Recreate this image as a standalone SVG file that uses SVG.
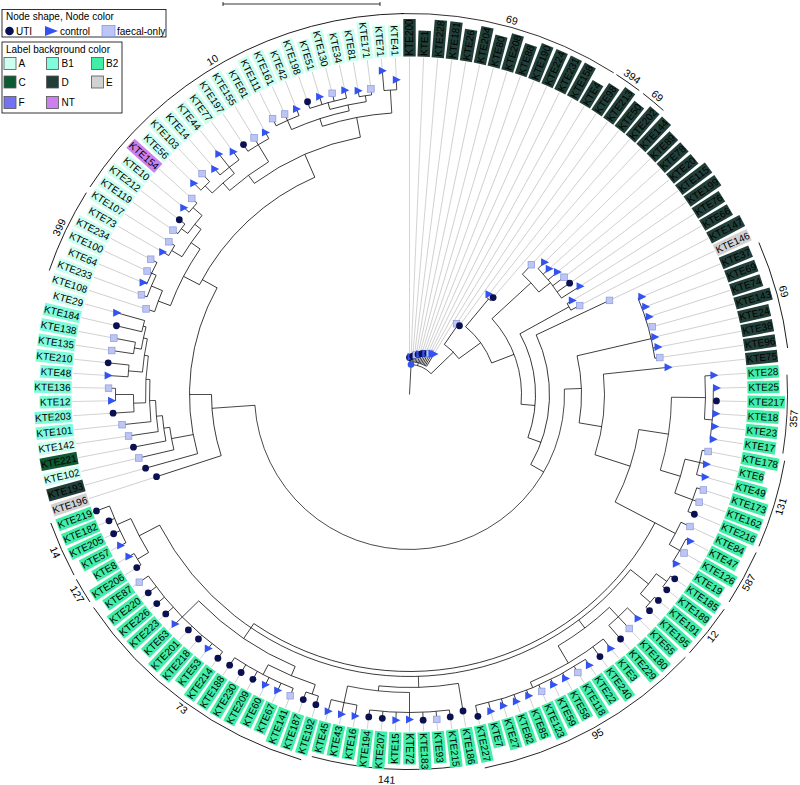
<svg xmlns="http://www.w3.org/2000/svg" xmlns:xlink="http://www.w3.org/1999/xlink" width="800" height="785" viewBox="0 0 800 785">
<style>
text{font-family:"Liberation Sans",Arial,sans-serif;fill:#000}
.lb text{font-size:10px}
.e{text-anchor:end}
.A{fill:#ccfff0}.B1{fill:#80fcdc}.B2{fill:#40eea8}.C{fill:#0e5a32}.D{fill:#213f38}.E{fill:#d2d2d2}.F{fill:#7373f2}.NT{fill:#cc80ee}
#cn line,#cn circle{fill:none;stroke:#000;stroke-width:0.7}
#cn .g{stroke:#a8a8a8;stroke-width:0.5}
#ann circle{fill:none;stroke:#000;stroke-width:0.8}
#ann text{font-size:10.5px;text-anchor:middle}
.lg text{font-size:10px}
.sw{stroke:#555;stroke-width:0.8}
</style>
<defs>
<circle id="c" r="3.4" fill="#0b1150"/>
<path id="t" d="M-3.5,-4L4.5,0L-3.5,4Z" fill="#3352f2"/>
<rect id="s" x="-3.3" y="-3.3" width="6.6" height="6.6" fill="#bcc5f3" stroke="#8a98dc" stroke-width="0.7"/>
<rect id="r1" x="338" y="-6.2" width="26" height="12.4"/>
<rect id="r2" x="338" y="-6.2" width="32" height="12.4"/>
<rect id="r3" x="338" y="-6.2" width="37.5" height="12.4"/>
<rect id="l1" x="-364" y="-6.2" width="26" height="12.4"/>
<rect id="l2" x="-370" y="-6.2" width="32" height="12.4"/>
<rect id="l3" x="-375.5" y="-6.2" width="37.5" height="12.4"/>
</defs>
<rect width="800" height="785" fill="#fff"/>
<g id="scale" stroke="#000" stroke-width="0.8"><line x1="223" y1="4" x2="380" y2="4"/><line x1="223" y1="2" x2="223" y2="6"/><line x1="380" y1="2" x2="380" y2="6"/></g>
<g id="legend-shape" class="lg">
<rect x="2" y="9.5" width="164" height="27.5" fill="#fff" stroke="#000" stroke-width="0.8"/>
<text x="6" y="20">Node shape, Node color</text>
<circle cx="9.5" cy="31" r="4.3" fill="#0b1150"/><text x="16" y="34.5">UTI</text>
<path d="M45,26L58,31L45,36Z" fill="#3352f2"/><text x="60" y="34.5">control</text>
<rect x="102" y="25.5" width="13" height="11" fill="#bcc5f3" stroke="#8a98dc" stroke-width="0.8"/><text x="117" y="34.5">faecal-only</text>
</g>
<g id="legend-label" class="lg">
<rect x="2" y="42" width="120" height="71" fill="#fff" stroke="#000" stroke-width="0.8"/>
<text x="6" y="53">Label background color</text>
<rect class="A sw" x="4" y="57.5" width="12" height="12"/><text x="18.5" y="67">A</text>
<rect class="B1 sw" x="46.5" y="57.5" width="12" height="12"/><text x="61.5" y="67">B1</text>
<rect class="B2 sw" x="91.5" y="57.5" width="12" height="12"/><text x="106" y="67">B2</text>
<rect class="C sw" x="4" y="76" width="12" height="12"/><text x="18.5" y="85.5">C</text>
<rect class="D sw" x="46.5" y="76" width="12" height="12"/><text x="61.5" y="85.5">D</text>
<rect class="E sw" x="91.5" y="76" width="12" height="12"/><text x="106" y="85.5">E</text>
<rect class="F sw" x="4" y="96.5" width="12" height="12"/><text x="18.5" y="106">F</text>
<rect class="NT sw" x="46.5" y="96.5" width="12" height="12"/><text x="61.5" y="106">NT</text>
</g>
<g transform="translate(409.5,394.5)">
<g id="cn">
<circle r="30" transform="rotate(-87)" stroke-dasharray="22.51 3000"/>
<circle r="33" transform="rotate(-90)" stroke-dasharray="17.97 3000"/>
<circle r="61" transform="rotate(-55.2)" stroke-dasharray="20.44 3000"/>
<circle r="82" transform="rotate(-56.4)" stroke-dasharray="3.43 3000"/>
<circle r="88" transform="rotate(-50.4)" stroke-dasharray="45.16 3000"/>
<circle r="124" transform="rotate(-51.6)" stroke-dasharray="5.19 3000"/>
<circle r="112" transform="rotate(-42.6)" stroke-dasharray="93.05 3000"/>
<circle r="165" transform="rotate(-46.8)" stroke-dasharray="24.19 3000"/>
<circle r="180" transform="rotate(-44.4)" stroke-dasharray="37.70 3000"/>
<circle r="126" transform="rotate(-28.8)" stroke-dasharray="107.32 3000"/>
<circle r="182" transform="rotate(-30)" stroke-dasharray="7.62 3000"/>
<circle r="140" transform="rotate(-25.2)" stroke-dasharray="134.88 3000"/>
<circle r="155" transform="rotate(-2)" stroke-dasharray="481.54 3000"/>
<circle r="172" transform="rotate(-13)" stroke-dasharray="67.54 3000"/>
<circle r="248" transform="rotate(-22.8)" stroke-dasharray="62.33 3000"/>
<circle r="195" transform="rotate(-6)" stroke-dasharray="81.68 3000"/>
<circle r="232" transform="rotate(8.7)" stroke-dasharray="76.53 3000"/>
<circle r="262" transform="rotate(0.6)" stroke-dasharray="74.08 3000"/>
<circle r="296" transform="rotate(-3.6)" stroke-dasharray="43.40 3000"/>
<circle r="304" transform="rotate(-1.2)" stroke-dasharray="50.94 3000"/>
<circle r="283" transform="rotate(13.2)" stroke-dasharray="35.56 3000"/>
<circle r="298" transform="rotate(10.8)" stroke-dasharray="24.96 3000"/>
<circle r="302" transform="rotate(18)" stroke-dasharray="25.30 3000"/>
<circle r="277" transform="rotate(27.6)" stroke-dasharray="467.02 3000"/>
<circle r="282" transform="rotate(38.4)" stroke-dasharray="561.09 3000"/>
<circle r="300" transform="rotate(25.2)" stroke-dasharray="25.13 3000"/>
<circle r="312" transform="rotate(27.6)" stroke-dasharray="26.14 3000"/>
<circle r="305" transform="rotate(36)" stroke-dasharray="25.55 3000"/>
<circle r="318" transform="rotate(34.8)" stroke-dasharray="13.32 3000"/>
<circle r="318" transform="rotate(39.6)" stroke-dasharray="13.32 3000"/>
<circle r="292" transform="rotate(46.8)" stroke-dasharray="64.21 3000"/>
<circle r="305" transform="rotate(44.4)" stroke-dasharray="25.55 3000"/>
<circle r="312" transform="rotate(51.6)" stroke-dasharray="84.95 3000"/>
<circle r="318" transform="rotate(56.4)" stroke-dasharray="119.88 3000"/>
<circle r="293" transform="rotate(80.4)" stroke-dasharray="79.77 3000"/>
<circle r="298" transform="rotate(90)" stroke-dasharray="62.41 3000"/>
<circle r="318" transform="rotate(82.8)" stroke-dasharray="79.92 3000"/>
<circle r="315" transform="rotate(99.6)" stroke-dasharray="26.39 3000"/>
<circle r="295" transform="rotate(112.8)" stroke-dasharray="117.39 3000"/>
<circle r="305" transform="rotate(108)" stroke-dasharray="51.10 3000"/>
<circle r="315" transform="rotate(106.8)" stroke-dasharray="13.19 3000"/>
<circle r="316" transform="rotate(111.6)" stroke-dasharray="66.18 3000"/>
<circle r="318" transform="rotate(126)" stroke-dasharray="106.56 3000"/>
<circle r="305" transform="rotate(148.8)" stroke-dasharray="38.33 3000"/>
<circle r="318" transform="rotate(147.6)" stroke-dasharray="13.32 3000"/>
<circle r="320" transform="rotate(152.4)" stroke-dasharray="40.21 3000"/>
<circle r="198" transform="rotate(162)" stroke-dasharray="62.20 3000"/>
<circle r="220" transform="rotate(164.4)" stroke-dasharray="171.25 3000"/>
<circle r="242" transform="rotate(166.8)" stroke-dasharray="22.81 3000"/>
<circle r="248" transform="rotate(169.2)" stroke-dasharray="25.54 3000"/>
<circle r="254" transform="rotate(171.6)" stroke-dasharray="31.25 3000"/>
<circle r="260" transform="rotate(174)" stroke-dasharray="42.20 3000"/>
<circle r="264" transform="rotate(178.2)" stroke-dasharray="47.00 3000"/>
<circle r="276" transform="rotate(176.4)" stroke-dasharray="17.34 3000"/>
<circle r="294" transform="rotate(178.8)" stroke-dasharray="12.31 3000"/>
<circle r="268" transform="rotate(184.8)" stroke-dasharray="33.68 3000"/>
<circle r="282" transform="rotate(183.6)" stroke-dasharray="11.81 3000"/>
<circle r="272" transform="rotate(189.6)" stroke-dasharray="22.79 3000"/>
<circle r="279" transform="rotate(188.4)" stroke-dasharray="11.69 3000"/>
<circle r="275" transform="rotate(193.2)" stroke-dasharray="11.52 3000"/>
<circle r="237" transform="rotate(207.6)" stroke-dasharray="160.70 3000"/>
<circle r="255" transform="rotate(200.4)" stroke-dasharray="64.09 3000"/>
<circle r="268" transform="rotate(198)" stroke-dasharray="22.45 3000"/>
<circle r="280" transform="rotate(200.4)" stroke-dasharray="23.46 3000"/>
<circle r="285" transform="rotate(202.8)" stroke-dasharray="23.88 3000"/>
<circle r="266" transform="rotate(211.2)" stroke-dasharray="33.43 3000"/>
<circle r="278" transform="rotate(210)" stroke-dasharray="11.64 3000"/>
<circle r="274" transform="rotate(216)" stroke-dasharray="22.95 3000"/>
<circle r="282" transform="rotate(214.8)" stroke-dasharray="11.81 3000"/>
<circle r="286" transform="rotate(219.6)" stroke-dasharray="11.98 3000"/>
<circle r="262" transform="rotate(233.7)" stroke-dasharray="116.61 3000"/>
<circle r="272" transform="rotate(228.6)" stroke-dasharray="48.42 3000"/>
<circle r="282" transform="rotate(225.6)" stroke-dasharray="29.53 3000"/>
<circle r="292" transform="rotate(224.4)" stroke-dasharray="12.23 3000"/>
<circle r="290" transform="rotate(229.2)" stroke-dasharray="24.30 3000"/>
<circle r="292" transform="rotate(236.4)" stroke-dasharray="24.46 3000"/>
<circle r="282" transform="rotate(252)" stroke-dasharray="70.87 3000"/>
<circle r="290" transform="rotate(246)" stroke-dasharray="60.74 3000"/>
<circle r="300" transform="rotate(243.6)" stroke-dasharray="25.13 3000"/>
<circle r="296" transform="rotate(254.4)" stroke-dasharray="37.20 3000"/>
<circle r="303" transform="rotate(250.8)" stroke-dasharray="38.08 3000"/>
<circle r="302" transform="rotate(260.4)" stroke-dasharray="12.65 3000"/>
<circle r="305" transform="rotate(265.2)" stroke-dasharray="12.78 3000"/>
<line transform="rotate(3)" y1="0" y2="-30"/>
<line transform="rotate(15.6)" y1="-30" y2="-33"/>
<line transform="rotate(46)" y1="-30" y2="-61"/>
<line transform="rotate(34.8)" y1="-61" y2="-82"/>
<line transform="rotate(54)" y1="-61" y2="-88"/>
<line transform="rotate(39.6)" y1="-88" y2="-124"/>
<line transform="rotate(69)" y1="-88" y2="-112"/>
<line transform="rotate(47.4)" y1="-112" y2="-165"/>
<line transform="rotate(51.6)" y1="-165" y2="-180"/>
<line transform="rotate(95)" y1="-112" y2="-126"/>
<line transform="rotate(61.2)" y1="-126" y2="-182"/>
<line transform="rotate(110)" y1="-126" y2="-140"/>
<line transform="rotate(120)" y1="-140" y2="-155"/>
<line transform="rotate(88)" y1="-155" y2="-172"/>
<line transform="rotate(77)" y1="-172" y2="-248"/>
<line transform="rotate(99.5)" y1="-172" y2="-195"/>
<line transform="rotate(108)" y1="-195" y2="-232"/>
<line transform="rotate(98.7)" y1="-232" y2="-262"/>
<line transform="rotate(90.6)" y1="-262" y2="-296"/>
<line transform="rotate(94.8)" y1="-296" y2="-304"/>
<line transform="rotate(106.8)" y1="-262" y2="-283"/>
<line transform="rotate(103.2)" y1="-283" y2="-298"/>
<line transform="rotate(110.4)" y1="-283" y2="-302"/>
<line transform="rotate(117.6)" y1="-232" y2="-300"/>
<line transform="rotate(120)" y1="-300" y2="-312"/>
<line transform="rotate(214.2)" y1="-277" y2="-295"/>
<line transform="rotate(128.4)" y1="-282" y2="-305"/>
<line transform="rotate(126)" y1="-305" y2="-318"/>
<line transform="rotate(130.8)" y1="-305" y2="-318"/>
<line transform="rotate(143.1)" y1="-282" y2="-292"/>
<line transform="rotate(136.8)" y1="-292" y2="-305"/>
<line transform="rotate(149.4)" y1="-292" y2="-312"/>
<line transform="rotate(157.2)" y1="-312" y2="-318"/>
<line transform="rotate(178.2)" y1="-282" y2="-293"/>
<line transform="rotate(186)" y1="-293" y2="-298"/>
<line transform="rotate(180)" y1="-298" y2="-318"/>
<line transform="rotate(192)" y1="-298" y2="-315"/>
<line transform="rotate(202.8)" y1="-295" y2="-305"/>
<line transform="rotate(198)" y1="-305" y2="-315"/>
<line transform="rotate(207.6)" y1="-305" y2="-316"/>
<line transform="rotate(225.6)" y1="-295" y2="-318"/>
<line transform="rotate(242.4)" y1="-282" y2="-305"/>
<line transform="rotate(238.8)" y1="-305" y2="-318"/>
<line transform="rotate(246)" y1="-305" y2="-320"/>
<line transform="rotate(266)" y1="-155" y2="-198"/>
<line transform="rotate(270)" y1="-198" y2="-220"/>
<line transform="rotate(259.5)" y1="-220" y2="-242"/>
<line transform="rotate(262.2)" y1="-242" y2="-248"/>
<line transform="rotate(265.1)" y1="-248" y2="-254"/>
<line transform="rotate(268.65)" y1="-254" y2="-260"/>
<line transform="rotate(273.3)" y1="-260" y2="-264"/>
<line transform="rotate(268.2)" y1="-264" y2="-276"/>
<line transform="rotate(270)" y1="-276" y2="-294"/>
<line transform="rotate(278.4)" y1="-264" y2="-268"/>
<line transform="rotate(274.8)" y1="-268" y2="-282"/>
<line transform="rotate(282)" y1="-268" y2="-272"/>
<line transform="rotate(279.6)" y1="-272" y2="-279"/>
<line transform="rotate(284.4)" y1="-272" y2="-275"/>
<line transform="rotate(299)" y1="-220" y2="-237"/>
<line transform="rotate(297.6)" y1="-237" y2="-255"/>
<line transform="rotate(290.4)" y1="-255" y2="-268"/>
<line transform="rotate(292.8)" y1="-268" y2="-280"/>
<line transform="rotate(295.2)" y1="-280" y2="-285"/>
<line transform="rotate(304.8)" y1="-255" y2="-266"/>
<line transform="rotate(301.2)" y1="-266" y2="-278"/>
<line transform="rotate(308.4)" y1="-266" y2="-274"/>
<line transform="rotate(306)" y1="-274" y2="-282"/>
<line transform="rotate(310.8)" y1="-274" y2="-286"/>
<line transform="rotate(336.45)" y1="-237" y2="-262"/>
<line transform="rotate(323.7)" y1="-262" y2="-272"/>
<line transform="rotate(318.6)" y1="-272" y2="-282"/>
<line transform="rotate(315.6)" y1="-282" y2="-292"/>
<line transform="rotate(321.6)" y1="-282" y2="-290"/>
<line transform="rotate(328.8)" y1="-272" y2="-292"/>
<line transform="rotate(349.2)" y1="-262" y2="-282"/>
<line transform="rotate(342)" y1="-282" y2="-290"/>
<line transform="rotate(336)" y1="-290" y2="-300"/>
<line transform="rotate(348)" y1="-290" y2="-296"/>
<line transform="rotate(344.4)" y1="-296" y2="-303"/>
<line transform="rotate(351.6)" y1="-296" y2="-302"/>
<line transform="rotate(356.4)" y1="-282" y2="-305"/>
<line transform="rotate(0)" y1="-33" y2="-37"/>
<line transform="rotate(2.4)" y1="-33" y2="-37.8"/>
<line transform="rotate(4.8)" y1="-33" y2="-38.6"/>
<line transform="rotate(7.2)" y1="-33" y2="-39.4"/>
<line transform="rotate(9.6)" y1="-33" y2="-40.2"/>
<line transform="rotate(12)" y1="-33" y2="-41"/>
<line transform="rotate(14.4)" y1="-33" y2="-41.8"/>
<line transform="rotate(16.8)" y1="-33" y2="-42.6"/>
<line transform="rotate(19.2)" y1="-33" y2="-43.4"/>
<line transform="rotate(21.6)" y1="-33" y2="-44.2"/>
<line transform="rotate(24)" y1="-33" y2="-45"/>
<line transform="rotate(26.4)" y1="-33" y2="-45.8"/>
<line transform="rotate(28.8)" y1="-33" y2="-46.6"/>
<line transform="rotate(31.2)" y1="-33" y2="-47.4"/>
<line transform="rotate(33.6)" y1="-82" y2="-85"/>
<line transform="rotate(36)" y1="-82" y2="-85"/>
<line transform="rotate(38.4)" y1="-124" y2="-128"/>
<line transform="rotate(40.8)" y1="-124" y2="-128"/>
<line transform="rotate(43.2)" y1="-165" y2="-178"/>
<line transform="rotate(45.6)" y1="-180" y2="-189"/>
<line transform="rotate(48)" y1="-180" y2="-188"/>
<line transform="rotate(50.4)" y1="-180" y2="-192"/>
<line transform="rotate(52.8)" y1="-180" y2="-194"/>
<line transform="rotate(55.2)" y1="-180" y2="-195"/>
<line transform="rotate(57.6)" y1="-180" y2="-202"/>
<line transform="rotate(60)" y1="-182" y2="-188"/>
<line transform="rotate(62.4)" y1="-182" y2="-192"/>
<line transform="rotate(64.8)" y1="-140" y2="-221"/>
<line transform="rotate(67.2)" y1="-248" y2="-252"/>
<line transform="rotate(69.6)" y1="-248" y2="-252"/>
<line transform="rotate(72)" y1="-248" y2="-252"/>
<line transform="rotate(74.4)" y1="-248" y2="-252"/>
<line transform="rotate(76.8)" y1="-248" y2="-252"/>
<line transform="rotate(79.2)" y1="-248" y2="-253"/>
<line transform="rotate(81.6)" y1="-248" y2="-253"/>
<line transform="rotate(84)" y1="-195" y2="-260"/>
<line transform="rotate(86.4)" y1="-296" y2="-305"/>
<line transform="rotate(88.8)" y1="-304" y2="-307"/>
<line transform="rotate(91.2)" y1="-304" y2="-307"/>
<line transform="rotate(93.6)" y1="-304" y2="-307"/>
<line transform="rotate(96)" y1="-304" y2="-307"/>
<line transform="rotate(98.4)" y1="-304" y2="-307"/>
<line transform="rotate(100.8)" y1="-298" y2="-304"/>
<line transform="rotate(103.2)" y1="-298" y2="-305"/>
<line transform="rotate(105.6)" y1="-298" y2="-307"/>
<line transform="rotate(108)" y1="-302" y2="-309"/>
<line transform="rotate(110.4)" y1="-302" y2="-309"/>
<line transform="rotate(112.8)" y1="-302" y2="-309"/>
<line transform="rotate(115.2)" y1="-300" y2="-310"/>
<line transform="rotate(117.6)" y1="-312" y2="-317"/>
<line transform="rotate(120)" y1="-312" y2="-317"/>
<line transform="rotate(122.4)" y1="-312" y2="-316"/>
<line transform="rotate(124.8)" y1="-318" y2="-323"/>
<line transform="rotate(127.2)" y1="-318" y2="-323"/>
<line transform="rotate(129.6)" y1="-318" y2="-323"/>
<line transform="rotate(132)" y1="-318" y2="-323"/>
<line transform="rotate(134.4)" y1="-305" y2="-320"/>
<line transform="rotate(136.8)" y1="-305" y2="-321"/>
<line transform="rotate(139.2)" y1="-305" y2="-323"/>
<line transform="rotate(141.6)" y1="-312" y2="-324"/>
<line transform="rotate(144)" y1="-312" y2="-324"/>
<line transform="rotate(146.4)" y1="-318" y2="-325"/>
<line transform="rotate(148.8)" y1="-318" y2="-325"/>
<line transform="rotate(151.2)" y1="-318" y2="-324"/>
<line transform="rotate(153.6)" y1="-318" y2="-324"/>
<line transform="rotate(156)" y1="-318" y2="-325"/>
<line transform="rotate(158.4)" y1="-318" y2="-324"/>
<line transform="rotate(160.8)" y1="-318" y2="-325"/>
<line transform="rotate(163.2)" y1="-318" y2="-325"/>
<line transform="rotate(165.6)" y1="-318" y2="-327"/>
<line transform="rotate(168)" y1="-318" y2="-329"/>
<line transform="rotate(170.4)" y1="-293" y2="-321"/>
<line transform="rotate(172.8)" y1="-318" y2="-325"/>
<line transform="rotate(175.2)" y1="-318" y2="-326"/>
<line transform="rotate(177.6)" y1="-318" y2="-326"/>
<line transform="rotate(180)" y1="-318" y2="-325"/>
<line transform="rotate(182.4)" y1="-318" y2="-326"/>
<line transform="rotate(184.8)" y1="-318" y2="-325"/>
<line transform="rotate(187.2)" y1="-318" y2="-325"/>
<line transform="rotate(189.6)" y1="-315" y2="-326"/>
<line transform="rotate(192)" y1="-315" y2="-327"/>
<line transform="rotate(194.4)" y1="-315" y2="-327"/>
<line transform="rotate(196.8)" y1="-315" y2="-324"/>
<line transform="rotate(199.2)" y1="-315" y2="-323"/>
<line transform="rotate(201.6)" y1="-316" y2="-324"/>
<line transform="rotate(204)" y1="-316" y2="-324"/>
<line transform="rotate(206.4)" y1="-316" y2="-324"/>
<line transform="rotate(208.8)" y1="-316" y2="-325"/>
<line transform="rotate(211.2)" y1="-316" y2="-325"/>
<line transform="rotate(213.6)" y1="-316" y2="-325"/>
<line transform="rotate(216)" y1="-318" y2="-326"/>
<line transform="rotate(218.4)" y1="-318" y2="-324"/>
<line transform="rotate(220.8)" y1="-318" y2="-323"/>
<line transform="rotate(223.2)" y1="-318" y2="-323"/>
<line transform="rotate(225.6)" y1="-318" y2="-328"/>
<line transform="rotate(228)" y1="-318" y2="-328"/>
<line transform="rotate(230.4)" y1="-318" y2="-328"/>
<line transform="rotate(232.8)" y1="-318" y2="-328"/>
<line transform="rotate(235.2)" y1="-318" y2="-329"/>
<line transform="rotate(237.6)" y1="-318" y2="-323"/>
<line transform="rotate(240)" y1="-318" y2="-324"/>
<line transform="rotate(242.4)" y1="-320" y2="-326"/>
<line transform="rotate(244.8)" y1="-320" y2="-327"/>
<line transform="rotate(247.2)" y1="-320" y2="-326"/>
<line transform="rotate(249.6)" y1="-320" y2="-334"/>
<line transform="rotate(252)" y1="-198" y2="-266"/>
<line transform="rotate(254.4)" y1="-220" y2="-274"/>
<line transform="rotate(256.8)" y1="-242" y2="-278"/>
<line transform="rotate(259.2)" y1="-248" y2="-281"/>
<line transform="rotate(261.6)" y1="-254" y2="-284"/>
<line transform="rotate(264)" y1="-260" y2="-289"/>
<line transform="rotate(266.4)" y1="-276" y2="-297"/>
<line transform="rotate(268.8)" y1="-294" y2="-298"/>
<line transform="rotate(271.2)" y1="-294" y2="-301"/>
<line transform="rotate(273.6)" y1="-282" y2="-302"/>
<line transform="rotate(276)" y1="-282" y2="-303"/>
<line transform="rotate(278.4)" y1="-279" y2="-301"/>
<line transform="rotate(280.8)" y1="-279" y2="-301"/>
<line transform="rotate(283.2)" y1="-275" y2="-301"/>
<line transform="rotate(285.6)" y1="-275" y2="-304"/>
<line transform="rotate(288)" y1="-268" y2="-277"/>
<line transform="rotate(290.4)" y1="-280" y2="-286"/>
<line transform="rotate(292.8)" y1="-285" y2="-289"/>
<line transform="rotate(295.2)" y1="-285" y2="-290"/>
<line transform="rotate(297.6)" y1="-285" y2="-292"/>
<line transform="rotate(300)" y1="-278" y2="-285"/>
<line transform="rotate(302.4)" y1="-278" y2="-285"/>
<line transform="rotate(304.8)" y1="-282" y2="-288"/>
<line transform="rotate(307.2)" y1="-282" y2="-289"/>
<line transform="rotate(309.6)" y1="-286" y2="-293"/>
<line transform="rotate(312)" y1="-286" y2="-293"/>
<line transform="rotate(314.4)" y1="-292" y2="-302"/>
<line transform="rotate(316.8)" y1="-292" y2="-303"/>
<line transform="rotate(319.2)" y1="-290" y2="-298"/>
<line transform="rotate(321.6)" y1="-290" y2="-307"/>
<line transform="rotate(324)" y1="-290" y2="-300"/>
<line transform="rotate(326.4)" y1="-292" y2="-300"/>
<line transform="rotate(328.8)" y1="-292" y2="-300"/>
<line transform="rotate(331.2)" y1="-292" y2="-299"/>
<line transform="rotate(333.6)" y1="-300" y2="-308"/>
<line transform="rotate(336)" y1="-300" y2="-307"/>
<line transform="rotate(338.4)" y1="-300" y2="-307"/>
<line transform="rotate(340.8)" y1="-303" y2="-310"/>
<line transform="rotate(343.2)" y1="-303" y2="-311"/>
<line transform="rotate(345.6)" y1="-303" y2="-311"/>
<line transform="rotate(348)" y1="-303" y2="-311"/>
<line transform="rotate(350.4)" y1="-302" y2="-308"/>
<line transform="rotate(352.8)" y1="-302" y2="-308"/>
<line transform="rotate(355.2)" y1="-305" y2="-325"/>
<line transform="rotate(357.6)" y1="-305" y2="-315"/>
<g class="g">
<line class="g" transform="rotate(0)" y1="-37" y2="-337"/>
<line class="g" transform="rotate(2.4)" y1="-37.8" y2="-337"/>
<line class="g" transform="rotate(4.8)" y1="-38.6" y2="-337"/>
<line class="g" transform="rotate(7.2)" y1="-39.4" y2="-337"/>
<line class="g" transform="rotate(9.6)" y1="-40.2" y2="-337"/>
<line class="g" transform="rotate(12)" y1="-41" y2="-337"/>
<line class="g" transform="rotate(14.4)" y1="-41.8" y2="-337"/>
<line class="g" transform="rotate(16.8)" y1="-42.6" y2="-337"/>
<line class="g" transform="rotate(19.2)" y1="-43.4" y2="-337"/>
<line class="g" transform="rotate(21.6)" y1="-44.2" y2="-337"/>
<line class="g" transform="rotate(24)" y1="-45" y2="-337"/>
<line class="g" transform="rotate(26.4)" y1="-45.8" y2="-337"/>
<line class="g" transform="rotate(28.8)" y1="-46.6" y2="-337"/>
<line class="g" transform="rotate(31.2)" y1="-47.4" y2="-337"/>
<line class="g" transform="rotate(33.6)" y1="-85" y2="-337"/>
<line class="g" transform="rotate(36)" y1="-85" y2="-337"/>
<line class="g" transform="rotate(38.4)" y1="-128" y2="-337"/>
<line class="g" transform="rotate(40.8)" y1="-128" y2="-337"/>
<line class="g" transform="rotate(43.2)" y1="-178" y2="-337"/>
<line class="g" transform="rotate(45.6)" y1="-189" y2="-337"/>
<line class="g" transform="rotate(48)" y1="-188" y2="-337"/>
<line class="g" transform="rotate(50.4)" y1="-192" y2="-337"/>
<line class="g" transform="rotate(52.8)" y1="-194" y2="-337"/>
<line class="g" transform="rotate(55.2)" y1="-195" y2="-337"/>
<line class="g" transform="rotate(57.6)" y1="-202" y2="-337"/>
<line class="g" transform="rotate(60)" y1="-188" y2="-337"/>
<line class="g" transform="rotate(62.4)" y1="-192" y2="-337"/>
<line class="g" transform="rotate(64.8)" y1="-221" y2="-337"/>
<line class="g" transform="rotate(67.2)" y1="-252" y2="-337"/>
<line class="g" transform="rotate(69.6)" y1="-252" y2="-337"/>
<line class="g" transform="rotate(72)" y1="-252" y2="-337"/>
<line class="g" transform="rotate(74.4)" y1="-252" y2="-337"/>
<line class="g" transform="rotate(76.8)" y1="-252" y2="-337"/>
<line class="g" transform="rotate(79.2)" y1="-253" y2="-337"/>
<line class="g" transform="rotate(81.6)" y1="-253" y2="-337"/>
<line class="g" transform="rotate(84)" y1="-260" y2="-337"/>
<line class="g" transform="rotate(86.4)" y1="-305" y2="-337"/>
<line class="g" transform="rotate(88.8)" y1="-307" y2="-337"/>
<line class="g" transform="rotate(91.2)" y1="-307" y2="-337"/>
<line class="g" transform="rotate(93.6)" y1="-307" y2="-337"/>
<line class="g" transform="rotate(96)" y1="-307" y2="-337"/>
<line class="g" transform="rotate(98.4)" y1="-307" y2="-337"/>
<line class="g" transform="rotate(100.8)" y1="-304" y2="-337"/>
<line class="g" transform="rotate(103.2)" y1="-305" y2="-337"/>
<line class="g" transform="rotate(105.6)" y1="-307" y2="-337"/>
<line class="g" transform="rotate(108)" y1="-309" y2="-337"/>
<line class="g" transform="rotate(110.4)" y1="-309" y2="-337"/>
<line class="g" transform="rotate(112.8)" y1="-309" y2="-337"/>
<line class="g" transform="rotate(115.2)" y1="-310" y2="-337"/>
<line class="g" transform="rotate(117.6)" y1="-317" y2="-337"/>
<line class="g" transform="rotate(120)" y1="-317" y2="-337"/>
<line class="g" transform="rotate(122.4)" y1="-316" y2="-337"/>
<line class="g" transform="rotate(124.8)" y1="-323" y2="-337"/>
<line class="g" transform="rotate(127.2)" y1="-323" y2="-337"/>
<line class="g" transform="rotate(129.6)" y1="-323" y2="-337"/>
<line class="g" transform="rotate(132)" y1="-323" y2="-337"/>
<line class="g" transform="rotate(134.4)" y1="-320" y2="-337"/>
<line class="g" transform="rotate(136.8)" y1="-321" y2="-337"/>
<line class="g" transform="rotate(139.2)" y1="-323" y2="-337"/>
<line class="g" transform="rotate(141.6)" y1="-324" y2="-337"/>
<line class="g" transform="rotate(144)" y1="-324" y2="-337"/>
<line class="g" transform="rotate(146.4)" y1="-325" y2="-337"/>
<line class="g" transform="rotate(148.8)" y1="-325" y2="-337"/>
<line class="g" transform="rotate(151.2)" y1="-324" y2="-337"/>
<line class="g" transform="rotate(153.6)" y1="-324" y2="-337"/>
<line class="g" transform="rotate(156)" y1="-325" y2="-337"/>
<line class="g" transform="rotate(158.4)" y1="-324" y2="-337"/>
<line class="g" transform="rotate(160.8)" y1="-325" y2="-337"/>
<line class="g" transform="rotate(163.2)" y1="-325" y2="-337"/>
<line class="g" transform="rotate(165.6)" y1="-327" y2="-337"/>
<line class="g" transform="rotate(168)" y1="-329" y2="-337"/>
<line class="g" transform="rotate(170.4)" y1="-321" y2="-337"/>
<line class="g" transform="rotate(172.8)" y1="-325" y2="-337"/>
<line class="g" transform="rotate(175.2)" y1="-326" y2="-337"/>
<line class="g" transform="rotate(177.6)" y1="-326" y2="-337"/>
<line class="g" transform="rotate(180)" y1="-325" y2="-337"/>
<line class="g" transform="rotate(182.4)" y1="-326" y2="-337"/>
<line class="g" transform="rotate(184.8)" y1="-325" y2="-337"/>
<line class="g" transform="rotate(187.2)" y1="-325" y2="-337"/>
<line class="g" transform="rotate(189.6)" y1="-326" y2="-337"/>
<line class="g" transform="rotate(192)" y1="-327" y2="-337"/>
<line class="g" transform="rotate(194.4)" y1="-327" y2="-337"/>
<line class="g" transform="rotate(196.8)" y1="-324" y2="-337"/>
<line class="g" transform="rotate(199.2)" y1="-323" y2="-337"/>
<line class="g" transform="rotate(201.6)" y1="-324" y2="-337"/>
<line class="g" transform="rotate(204)" y1="-324" y2="-337"/>
<line class="g" transform="rotate(206.4)" y1="-324" y2="-337"/>
<line class="g" transform="rotate(208.8)" y1="-325" y2="-337"/>
<line class="g" transform="rotate(211.2)" y1="-325" y2="-337"/>
<line class="g" transform="rotate(213.6)" y1="-325" y2="-337"/>
<line class="g" transform="rotate(216)" y1="-326" y2="-337"/>
<line class="g" transform="rotate(218.4)" y1="-324" y2="-337"/>
<line class="g" transform="rotate(220.8)" y1="-323" y2="-337"/>
<line class="g" transform="rotate(223.2)" y1="-323" y2="-337"/>
<line class="g" transform="rotate(225.6)" y1="-328" y2="-337"/>
<line class="g" transform="rotate(228)" y1="-328" y2="-337"/>
<line class="g" transform="rotate(230.4)" y1="-328" y2="-337"/>
<line class="g" transform="rotate(232.8)" y1="-328" y2="-337"/>
<line class="g" transform="rotate(235.2)" y1="-329" y2="-337"/>
<line class="g" transform="rotate(237.6)" y1="-323" y2="-337"/>
<line class="g" transform="rotate(240)" y1="-324" y2="-337"/>
<line class="g" transform="rotate(242.4)" y1="-326" y2="-337"/>
<line class="g" transform="rotate(244.8)" y1="-327" y2="-337"/>
<line class="g" transform="rotate(247.2)" y1="-326" y2="-337"/>
<line class="g" transform="rotate(249.6)" y1="-334" y2="-337"/>
<line class="g" transform="rotate(252)" y1="-266" y2="-337"/>
<line class="g" transform="rotate(254.4)" y1="-274" y2="-337"/>
<line class="g" transform="rotate(256.8)" y1="-278" y2="-337"/>
<line class="g" transform="rotate(259.2)" y1="-281" y2="-337"/>
<line class="g" transform="rotate(261.6)" y1="-284" y2="-337"/>
<line class="g" transform="rotate(264)" y1="-289" y2="-337"/>
<line class="g" transform="rotate(266.4)" y1="-297" y2="-337"/>
<line class="g" transform="rotate(268.8)" y1="-298" y2="-337"/>
<line class="g" transform="rotate(271.2)" y1="-301" y2="-337"/>
<line class="g" transform="rotate(273.6)" y1="-302" y2="-337"/>
<line class="g" transform="rotate(276)" y1="-303" y2="-337"/>
<line class="g" transform="rotate(278.4)" y1="-301" y2="-337"/>
<line class="g" transform="rotate(280.8)" y1="-301" y2="-337"/>
<line class="g" transform="rotate(283.2)" y1="-301" y2="-337"/>
<line class="g" transform="rotate(285.6)" y1="-304" y2="-337"/>
<line class="g" transform="rotate(288)" y1="-277" y2="-337"/>
<line class="g" transform="rotate(290.4)" y1="-286" y2="-337"/>
<line class="g" transform="rotate(292.8)" y1="-289" y2="-337"/>
<line class="g" transform="rotate(295.2)" y1="-290" y2="-337"/>
<line class="g" transform="rotate(297.6)" y1="-292" y2="-337"/>
<line class="g" transform="rotate(300)" y1="-285" y2="-337"/>
<line class="g" transform="rotate(302.4)" y1="-285" y2="-337"/>
<line class="g" transform="rotate(304.8)" y1="-288" y2="-337"/>
<line class="g" transform="rotate(307.2)" y1="-289" y2="-337"/>
<line class="g" transform="rotate(309.6)" y1="-293" y2="-337"/>
<line class="g" transform="rotate(312)" y1="-293" y2="-337"/>
<line class="g" transform="rotate(314.4)" y1="-302" y2="-337"/>
<line class="g" transform="rotate(316.8)" y1="-303" y2="-337"/>
<line class="g" transform="rotate(319.2)" y1="-298" y2="-337"/>
<line class="g" transform="rotate(321.6)" y1="-307" y2="-337"/>
<line class="g" transform="rotate(324)" y1="-300" y2="-337"/>
<line class="g" transform="rotate(326.4)" y1="-300" y2="-337"/>
<line class="g" transform="rotate(328.8)" y1="-300" y2="-337"/>
<line class="g" transform="rotate(331.2)" y1="-299" y2="-337"/>
<line class="g" transform="rotate(333.6)" y1="-308" y2="-337"/>
<line class="g" transform="rotate(336)" y1="-307" y2="-337"/>
<line class="g" transform="rotate(338.4)" y1="-307" y2="-337"/>
<line class="g" transform="rotate(340.8)" y1="-310" y2="-337"/>
<line class="g" transform="rotate(343.2)" y1="-311" y2="-337"/>
<line class="g" transform="rotate(345.6)" y1="-311" y2="-337"/>
<line class="g" transform="rotate(348)" y1="-311" y2="-337"/>
<line class="g" transform="rotate(350.4)" y1="-308" y2="-337"/>
<line class="g" transform="rotate(352.8)" y1="-308" y2="-337"/>
<line class="g" transform="rotate(355.2)" y1="-325" y2="-337"/>
<line class="g" transform="rotate(357.6)" y1="-315" y2="-337"/>
</g>
</g>
<g id="ann">
<circle r="381" transform="rotate(-91.2)" stroke-dasharray="223.43 3000"/>
<circle r="381" transform="rotate(-57.1)" stroke-dasharray="27.93 3000"/>
<circle r="381" transform="rotate(-52.2)" stroke-dasharray="26.6 3000"/>
<circle r="381" transform="rotate(-23.5)" stroke-dasharray="109.72 3000"/>
<circle r="378" transform="rotate(-3)" stroke-dasharray="79.17 3000"/>
<circle r="381" transform="rotate(10)" stroke-dasharray="89.77 3000"/>
<circle r="381" transform="rotate(24.5)" stroke-dasharray="56.52 3000"/>
<circle r="381" transform="rotate(34.3)" stroke-dasharray="55.86 3000"/>
<circle r="381" transform="rotate(43.6)" stroke-dasharray="232.74 3000"/>
<circle r="375" transform="rotate(82)" stroke-dasharray="151.19 3000"/>
<circle r="381" transform="rotate(106.5)" stroke-dasharray="262.66 3000"/>
<circle r="381" transform="rotate(147)" stroke-dasharray="26.6 3000"/>
<circle r="381" transform="rotate(151.7)" stroke-dasharray="57.19 3000"/>
<circle r="381" transform="rotate(199)" stroke-dasharray="86.45 3000"/>
<circle r="381" transform="rotate(213)" stroke-dasharray="373.05 3000"/>
<text transform="rotate(15.3)" y="-384.5">69</text>
<text transform="rotate(35)" y="-384.5">394</text>
<text transform="rotate(39.7)" y="-384.5">69</text>
<text transform="rotate(74.6)" y="-384.5">69</text>
<text transform="rotate(-86.4)" y="388.5">357</text>
<text transform="rotate(-73.2)" y="391.5">131</text>
<text transform="rotate(-61)" y="391.5">587</text>
<text transform="rotate(-51.4)" y="391.5">12</text>
<text transform="rotate(-29)" y="391.5">95</text>
<text transform="rotate(3.4)" y="389.5">141</text>
<text transform="rotate(36)" y="391.5">73</text>
<text transform="rotate(59)" y="391.5">127</text>
<text transform="rotate(66)" y="391.5">14</text>
<text transform="rotate(295.5)" y="-384.5">399</text>
<text transform="rotate(329.5)" y="-384.5">10</text>
</g>
<circle id="root" cx="1.5" cy="-30" r="3.3" fill="#3355e8"/>
<g id="nodes" class="lb">
<g id="n-KTE200" transform="rotate(-90)"><use href="#r3" class="D"/><text x="339" y="3.6">KTE200</text><use href="#c" transform="translate(37,0) rotate(90)"/></g>
<g id="n-KTE1" transform="rotate(-87.6)"><use href="#r1" class="D"/><text x="339" y="3.6">KTE1</text><use href="#t" transform="translate(37.8,0) rotate(87.6)"/></g>
<g id="n-KTE228" transform="rotate(-85.2)"><use href="#r3" class="D"/><text x="339" y="3.6">KTE228</text><use href="#c" transform="translate(38.6,0) rotate(85.2)"/></g>
<g id="n-KTE181" transform="rotate(-82.8)"><use href="#r3" class="D"/><text x="339" y="3.6">KTE181</text><use href="#c" transform="translate(39.4,0) rotate(82.8)"/></g>
<g id="n-KTE26" transform="rotate(-80.4)"><use href="#r2" class="D"/><text x="339" y="3.6">KTE26</text><use href="#s" transform="translate(40.2,0) rotate(80.4)"/></g>
<g id="n-KTE204" transform="rotate(-78)"><use href="#r3" class="D"/><text x="339" y="3.6">KTE204</text><use href="#c" transform="translate(41,0) rotate(78)"/></g>
<g id="n-KTE80" transform="rotate(-75.6)"><use href="#r2" class="D"/><text x="339" y="3.6">KTE80</text><use href="#t" transform="translate(41.8,0) rotate(75.6)"/></g>
<g id="n-KTE208" transform="rotate(-73.2)"><use href="#r3" class="D"/><text x="339" y="3.6">KTE208</text><use href="#c" transform="translate(42.6,0) rotate(73.2)"/></g>
<g id="n-KTE88" transform="rotate(-70.8)"><use href="#r2" class="D"/><text x="339" y="3.6">KTE88</text><use href="#c" transform="translate(43.4,0) rotate(70.8)"/></g>
<g id="n-KTE190" transform="rotate(-68.4)"><use href="#r3" class="D"/><text x="339" y="3.6">KTE190</text><use href="#t" transform="translate(44.2,0) rotate(68.4)"/></g>
<g id="n-KTE224" transform="rotate(-66)"><use href="#r3" class="D"/><text x="339" y="3.6">KTE224</text><use href="#c" transform="translate(45,0) rotate(66)"/></g>
<g id="n-KTE231" transform="rotate(-63.6)"><use href="#r3" class="D"/><text x="339" y="3.6">KTE231</text><use href="#s" transform="translate(45.8,0) rotate(63.6)"/></g>
<g id="n-KTE158" transform="rotate(-61.2)"><use href="#r3" class="D"/><text x="339" y="3.6">KTE158</text><use href="#t" transform="translate(46.6,0) rotate(61.2)"/></g>
<g id="n-KTE4" transform="rotate(-58.8)"><use href="#r1" class="D"/><text x="339" y="3.6">KTE4</text><use href="#t" transform="translate(47.4,0) rotate(58.8)"/></g>
<g id="n-KTE98" transform="rotate(-56.4)"><use href="#r2" class="D"/><text x="339" y="3.6">KTE98</text><use href="#s" transform="translate(85,0) rotate(56.4)"/></g>
<g id="n-KTE213" transform="rotate(-54)"><use href="#r3" class="D"/><text x="339" y="3.6">KTE213</text><use href="#c" transform="translate(85,0) rotate(54)"/></g>
<g id="n-KTE50" transform="rotate(-51.6)"><use href="#r2" class="D"/><text x="339" y="3.6">KTE50</text><use href="#t" transform="translate(128,0) rotate(51.6)"/></g>
<g id="n-KTE202" transform="rotate(-49.2)"><use href="#r3" class="D"/><text x="339" y="3.6">KTE202</text><use href="#c" transform="translate(128,0) rotate(49.2)"/></g>
<g id="n-KTE144" transform="rotate(-46.8)"><use href="#r3" class="D"/><text x="339" y="3.6">KTE144</text><use href="#s" transform="translate(178,0) rotate(46.8)"/></g>
<g id="n-KTE89" transform="rotate(-44.4)"><use href="#r2" class="D"/><text x="339" y="3.6">KTE89</text><use href="#t" transform="translate(189,0) rotate(44.4)"/></g>
<g id="n-KTE78" transform="rotate(-42)"><use href="#r2" class="D"/><text x="339" y="3.6">KTE78</text><use href="#t" transform="translate(188,0) rotate(42)"/></g>
<g id="n-KTE20" transform="rotate(-39.6)"><use href="#r2" class="D"/><text x="339" y="3.6">KTE20</text><use href="#t" transform="translate(192,0) rotate(39.6)"/></g>
<g id="n-KTE115" transform="rotate(-37.2)"><use href="#r3" class="D"/><text x="339" y="3.6">KTE115</text><use href="#s" transform="translate(194,0) rotate(37.2)"/></g>
<g id="n-KTE199" transform="rotate(-34.8)"><use href="#r3" class="D"/><text x="339" y="3.6">KTE199</text><use href="#c" transform="translate(195,0) rotate(34.8)"/></g>
<g id="n-KTE76" transform="rotate(-32.4)"><use href="#r2" class="D"/><text x="339" y="3.6">KTE76</text><use href="#t" transform="translate(202,0) rotate(32.4)"/></g>
<g id="n-KTE66" transform="rotate(-30)"><use href="#r2" class="D"/><text x="339" y="3.6">KTE66</text><use href="#t" transform="translate(188,0) rotate(30)"/></g>
<g id="n-KTE147" transform="rotate(-27.6)"><use href="#r3" class="D"/><text x="339" y="3.6">KTE147</text><use href="#s" transform="translate(192,0) rotate(27.6)"/></g>
<g id="n-KTE146" transform="rotate(-25.2)"><use href="#r3" class="E"/><text x="339" y="3.6">KTE146</text><use href="#s" transform="translate(221,0) rotate(25.2)"/></g>
<g id="n-KTE37" transform="rotate(-22.8)"><use href="#r2" class="D"/><text x="339" y="3.6">KTE37</text><use href="#t" transform="translate(252,0) rotate(22.8)"/></g>
<g id="n-KTE69" transform="rotate(-20.4)"><use href="#r2" class="D"/><text x="339" y="3.6">KTE69</text><use href="#t" transform="translate(252,0) rotate(20.4)"/></g>
<g id="n-KTE74" transform="rotate(-18)"><use href="#r2" class="D"/><text x="339" y="3.6">KTE74</text><use href="#t" transform="translate(252,0) rotate(18)"/></g>
<g id="n-KTE143" transform="rotate(-15.6)"><use href="#r3" class="D"/><text x="339" y="3.6">KTE143</text><use href="#s" transform="translate(252,0) rotate(15.6)"/></g>
<g id="n-KTE24" transform="rotate(-13.2)"><use href="#r2" class="D"/><text x="339" y="3.6">KTE24</text><use href="#t" transform="translate(252,0) rotate(13.2)"/></g>
<g id="n-KTE38" transform="rotate(-10.8)"><use href="#r2" class="D"/><text x="339" y="3.6">KTE38</text><use href="#t" transform="translate(253,0) rotate(10.8)"/></g>
<g id="n-KTE96" transform="rotate(-8.4)"><use href="#r2" class="D"/><text x="339" y="3.6">KTE96</text><use href="#s" transform="translate(253,0) rotate(8.4)"/></g>
<g id="n-KTE75" transform="rotate(-6)"><use href="#r2" class="D"/><text x="339" y="3.6">KTE75</text><use href="#t" transform="translate(260,0) rotate(6)"/></g>
<g id="n-KTE28" transform="rotate(-3.6)"><use href="#r2" class="B2"/><text x="339" y="3.6">KTE28</text><use href="#t" transform="translate(305,0) rotate(3.6)"/></g>
<g id="n-KTE25" transform="rotate(-1.2)"><use href="#r2" class="B2"/><text x="339" y="3.6">KTE25</text><use href="#t" transform="translate(307,0) rotate(1.2)"/></g>
<g id="n-KTE217" transform="rotate(1.2)"><use href="#r3" class="B2"/><text x="339" y="3.6">KTE217</text><use href="#c" transform="translate(307,0) rotate(-1.2)"/></g>
<g id="n-KTE18" transform="rotate(3.6)"><use href="#r2" class="B2"/><text x="339" y="3.6">KTE18</text><use href="#t" transform="translate(307,0) rotate(-3.6)"/></g>
<g id="n-KTE23" transform="rotate(6)"><use href="#r2" class="B2"/><text x="339" y="3.6">KTE23</text><use href="#t" transform="translate(307,0) rotate(-6)"/></g>
<g id="n-KTE17" transform="rotate(8.4)"><use href="#r2" class="B2"/><text x="339" y="3.6">KTE17</text><use href="#t" transform="translate(307,0) rotate(-8.4)"/></g>
<g id="n-KTE178" transform="rotate(10.8)"><use href="#r3" class="B2"/><text x="339" y="3.6">KTE178</text><use href="#s" transform="translate(304,0) rotate(-10.8)"/></g>
<g id="n-KTE6" transform="rotate(13.2)"><use href="#r1" class="B2"/><text x="339" y="3.6">KTE6</text><use href="#t" transform="translate(305,0) rotate(-13.2)"/></g>
<g id="n-KTE49" transform="rotate(15.6)"><use href="#r2" class="B2"/><text x="339" y="3.6">KTE49</text><use href="#t" transform="translate(307,0) rotate(-15.6)"/></g>
<g id="n-KTE173" transform="rotate(18)"><use href="#r3" class="B2"/><text x="339" y="3.6">KTE173</text><use href="#s" transform="translate(309,0) rotate(-18)"/></g>
<g id="n-KTE162" transform="rotate(20.4)"><use href="#r3" class="B2"/><text x="339" y="3.6">KTE162</text><use href="#s" transform="translate(309,0) rotate(-20.4)"/></g>
<g id="n-KTE216" transform="rotate(22.8)"><use href="#r3" class="B2"/><text x="339" y="3.6">KTE216</text><use href="#c" transform="translate(309,0) rotate(-22.8)"/></g>
<g id="n-KTE84" transform="rotate(25.2)"><use href="#r2" class="B2"/><text x="339" y="3.6">KTE84</text><use href="#s" transform="translate(310,0) rotate(-25.2)"/></g>
<g id="n-KTE47" transform="rotate(27.6)"><use href="#r2" class="B2"/><text x="339" y="3.6">KTE47</text><use href="#t" transform="translate(317,0) rotate(-27.6)"/></g>
<g id="n-KTE126" transform="rotate(30)"><use href="#r3" class="B2"/><text x="339" y="3.6">KTE126</text><use href="#s" transform="translate(317,0) rotate(-30)"/></g>
<g id="n-KTE19" transform="rotate(32.4)"><use href="#r2" class="B2"/><text x="339" y="3.6">KTE19</text><use href="#t" transform="translate(316,0) rotate(-32.4)"/></g>
<g id="n-KTE185" transform="rotate(34.8)"><use href="#r3" class="B2"/><text x="339" y="3.6">KTE185</text><use href="#c" transform="translate(323,0) rotate(-34.8)"/></g>
<g id="n-KTE189" transform="rotate(37.2)"><use href="#r3" class="B2"/><text x="339" y="3.6">KTE189</text><use href="#c" transform="translate(323,0) rotate(-37.2)"/></g>
<g id="n-KTE191" transform="rotate(39.6)"><use href="#r3" class="B2"/><text x="339" y="3.6">KTE191</text><use href="#c" transform="translate(323,0) rotate(-39.6)"/></g>
<g id="n-KTE195" transform="rotate(42)"><use href="#r3" class="B2"/><text x="339" y="3.6">KTE195</text><use href="#c" transform="translate(323,0) rotate(-42)"/></g>
<g id="n-KTE55" transform="rotate(44.4)"><use href="#r2" class="B2"/><text x="339" y="3.6">KTE55</text><use href="#t" transform="translate(320,0) rotate(-44.4)"/></g>
<g id="n-KTE180" transform="rotate(46.8)"><use href="#r3" class="B2"/><text x="339" y="3.6">KTE180</text><use href="#s" transform="translate(321,0) rotate(-46.8)"/></g>
<g id="n-KTE229" transform="rotate(49.2)"><use href="#r3" class="B2"/><text x="339" y="3.6">KTE229</text><use href="#c" transform="translate(323,0) rotate(-49.2)"/></g>
<g id="n-KTE3" transform="rotate(51.6)"><use href="#r1" class="B2"/><text x="339" y="3.6">KTE3</text><use href="#t" transform="translate(324,0) rotate(-51.6)"/></g>
<g id="n-KTE240" transform="rotate(54)"><use href="#r3" class="B2"/><text x="339" y="3.6">KTE240</text><use href="#c" transform="translate(324,0) rotate(-54)"/></g>
<g id="n-KTE22" transform="rotate(56.4)"><use href="#r2" class="B2"/><text x="339" y="3.6">KTE22</text><use href="#t" transform="translate(325,0) rotate(-56.4)"/></g>
<g id="n-KTE118" transform="rotate(58.8)"><use href="#r3" class="B2"/><text x="339" y="3.6">KTE118</text><use href="#s" transform="translate(325,0) rotate(-58.8)"/></g>
<g id="n-KTE58" transform="rotate(61.2)"><use href="#r2" class="B2"/><text x="339" y="3.6">KTE58</text><use href="#t" transform="translate(324,0) rotate(-61.2)"/></g>
<g id="n-KTE59" transform="rotate(63.6)"><use href="#r2" class="B2"/><text x="339" y="3.6">KTE59</text><use href="#t" transform="translate(324,0) rotate(-63.6)"/></g>
<g id="n-KTE123" transform="rotate(66)"><use href="#r3" class="B2"/><text x="339" y="3.6">KTE123</text><use href="#s" transform="translate(325,0) rotate(-66)"/></g>
<g id="n-KTE85" transform="rotate(68.4)"><use href="#r2" class="B2"/><text x="339" y="3.6">KTE85</text><use href="#t" transform="translate(324,0) rotate(-68.4)"/></g>
<g id="n-KTE82" transform="rotate(70.8)"><use href="#r2" class="B2"/><text x="339" y="3.6">KTE82</text><use href="#t" transform="translate(325,0) rotate(-70.8)"/></g>
<g id="n-KTE27" transform="rotate(73.2)"><use href="#r2" class="B2"/><text x="339" y="3.6">KTE27</text><use href="#t" transform="translate(325,0) rotate(-73.2)"/></g>
<g id="n-KTE7" transform="rotate(75.6)"><use href="#r1" class="B2"/><text x="339" y="3.6">KTE7</text><use href="#t" transform="translate(327,0) rotate(-75.6)"/></g>
<g id="n-KTE227" transform="rotate(78)"><use href="#r3" class="B2"/><text x="339" y="3.6">KTE227</text><use href="#c" transform="translate(329,0) rotate(-78)"/></g>
<g id="n-KTE186" transform="rotate(80.4)"><use href="#r3" class="B2"/><text x="339" y="3.6">KTE186</text><use href="#c" transform="translate(321,0) rotate(-80.4)"/></g>
<g id="n-KTE215" transform="rotate(82.8)"><use href="#r3" class="B2"/><text x="339" y="3.6">KTE215</text><use href="#c" transform="translate(325,0) rotate(-82.8)"/></g>
<g id="n-KTE93" transform="rotate(85.2)"><use href="#r2" class="B2"/><text x="339" y="3.6">KTE93</text><use href="#s" transform="translate(326,0) rotate(-85.2)"/></g>
<g id="n-KTE183" transform="rotate(87.6)"><use href="#r3" class="B2"/><text x="339" y="3.6">KTE183</text><use href="#c" transform="translate(326,0) rotate(-87.6)"/></g>
<g id="n-KTE72" transform="rotate(90)"><use href="#r2" class="B2"/><text x="339" y="3.6">KTE72</text><use href="#t" transform="translate(325,0) rotate(-90)"/></g>
<g id="n-KTE15" transform="rotate(272.4)"><use href="#l2" class="B2"/><text class="e" x="-339" y="3.6">KTE15</text><use href="#t" transform="translate(-326,0) rotate(-272.4)"/></g>
<g id="n-KTE207" transform="rotate(274.8)"><use href="#l3" class="B2"/><text class="e" x="-339" y="3.6">KTE207</text><use href="#c" transform="translate(-325,0) rotate(-274.8)"/></g>
<g id="n-KTE194" transform="rotate(277.2)"><use href="#l3" class="B2"/><text class="e" x="-339" y="3.6">KTE194</text><use href="#c" transform="translate(-325,0) rotate(-277.2)"/></g>
<g id="n-KTE16" transform="rotate(279.6)"><use href="#l2" class="B2"/><text class="e" x="-339" y="3.6">KTE16</text><use href="#t" transform="translate(-326,0) rotate(-279.6)"/></g>
<g id="n-KTE43" transform="rotate(282)"><use href="#l2" class="B2"/><text class="e" x="-339" y="3.6">KTE43</text><use href="#t" transform="translate(-327,0) rotate(-282)"/></g>
<g id="n-KTE45" transform="rotate(284.4)"><use href="#l2" class="B2"/><text class="e" x="-339" y="3.6">KTE45</text><use href="#t" transform="translate(-327,0) rotate(-284.4)"/></g>
<g id="n-KTE192" transform="rotate(286.8)"><use href="#l3" class="B2"/><text class="e" x="-339" y="3.6">KTE192</text><use href="#c" transform="translate(-324,0) rotate(-286.8)"/></g>
<g id="n-KTE187" transform="rotate(289.2)"><use href="#l3" class="B2"/><text class="e" x="-339" y="3.6">KTE187</text><use href="#c" transform="translate(-323,0) rotate(-289.2)"/></g>
<g id="n-KTE141" transform="rotate(291.6)"><use href="#l3" class="B2"/><text class="e" x="-339" y="3.6">KTE141</text><use href="#s" transform="translate(-324,0) rotate(-291.6)"/></g>
<g id="n-KTE67" transform="rotate(294)"><use href="#l2" class="B2"/><text class="e" x="-339" y="3.6">KTE67</text><use href="#t" transform="translate(-324,0) rotate(-294)"/></g>
<g id="n-KTE60" transform="rotate(296.4)"><use href="#l2" class="B2"/><text class="e" x="-339" y="3.6">KTE60</text><use href="#t" transform="translate(-324,0) rotate(-296.4)"/></g>
<g id="n-KTE209" transform="rotate(298.8)"><use href="#l3" class="B2"/><text class="e" x="-339" y="3.6">KTE209</text><use href="#c" transform="translate(-325,0) rotate(-298.8)"/></g>
<g id="n-KTE230" transform="rotate(301.2)"><use href="#l3" class="B2"/><text class="e" x="-339" y="3.6">KTE230</text><use href="#c" transform="translate(-325,0) rotate(-301.2)"/></g>
<g id="n-KTE188" transform="rotate(303.6)"><use href="#l3" class="B2"/><text class="e" x="-339" y="3.6">KTE188</text><use href="#c" transform="translate(-325,0) rotate(-303.6)"/></g>
<g id="n-KTE214" transform="rotate(306)"><use href="#l3" class="B2"/><text class="e" x="-339" y="3.6">KTE214</text><use href="#c" transform="translate(-326,0) rotate(-306)"/></g>
<g id="n-KTE53" transform="rotate(308.4)"><use href="#l2" class="B2"/><text class="e" x="-339" y="3.6">KTE53</text><use href="#t" transform="translate(-324,0) rotate(-308.4)"/></g>
<g id="n-KTE218" transform="rotate(310.8)"><use href="#l3" class="B2"/><text class="e" x="-339" y="3.6">KTE218</text><use href="#c" transform="translate(-323,0) rotate(-310.8)"/></g>
<g id="n-KTE201" transform="rotate(313.2)"><use href="#l3" class="B2"/><text class="e" x="-339" y="3.6">KTE201</text><use href="#c" transform="translate(-323,0) rotate(-313.2)"/></g>
<g id="n-KTE63" transform="rotate(315.6)"><use href="#l2" class="B2"/><text class="e" x="-339" y="3.6">KTE63</text><use href="#t" transform="translate(-328,0) rotate(-315.6)"/></g>
<g id="n-KTE223" transform="rotate(318)"><use href="#l3" class="B2"/><text class="e" x="-339" y="3.6">KTE223</text><use href="#c" transform="translate(-328,0) rotate(-318)"/></g>
<g id="n-KTE226" transform="rotate(320.4)"><use href="#l3" class="B2"/><text class="e" x="-339" y="3.6">KTE226</text><use href="#c" transform="translate(-328,0) rotate(-320.4)"/></g>
<g id="n-KTE220" transform="rotate(322.8)"><use href="#l3" class="B2"/><text class="e" x="-339" y="3.6">KTE220</text><use href="#c" transform="translate(-328,0) rotate(-322.8)"/></g>
<g id="n-KTE87" transform="rotate(325.2)"><use href="#l2" class="B2"/><text class="e" x="-339" y="3.6">KTE87</text><use href="#s" transform="translate(-329,0) rotate(-325.2)"/></g>
<g id="n-KTE206" transform="rotate(327.6)"><use href="#l3" class="B2"/><text class="e" x="-339" y="3.6">KTE206</text><use href="#c" transform="translate(-323,0) rotate(-327.6)"/></g>
<g id="n-KTE8" transform="rotate(330)"><use href="#l1" class="B2"/><text class="e" x="-339" y="3.6">KTE8</text><use href="#t" transform="translate(-324,0) rotate(-330)"/></g>
<g id="n-KTE57" transform="rotate(332.4)"><use href="#l2" class="B2"/><text class="e" x="-339" y="3.6">KTE57</text><use href="#t" transform="translate(-326,0) rotate(-332.4)"/></g>
<g id="n-KTE205" transform="rotate(334.8)"><use href="#l3" class="B2"/><text class="e" x="-339" y="3.6">KTE205</text><use href="#c" transform="translate(-327,0) rotate(-334.8)"/></g>
<g id="n-KTE182" transform="rotate(337.2)"><use href="#l3" class="B2"/><text class="e" x="-339" y="3.6">KTE182</text><use href="#c" transform="translate(-326,0) rotate(-337.2)"/></g>
<g id="n-KTE219" transform="rotate(339.6)"><use href="#l3" class="B2"/><text class="e" x="-339" y="3.6">KTE219</text><use href="#c" transform="translate(-334,0) rotate(-339.6)"/></g>
<g id="n-KTE196" transform="rotate(342)"><use href="#l3" class="E"/><text class="e" x="-339" y="3.6">KTE196</text><use href="#c" transform="translate(-266,0) rotate(-342)"/></g>
<g id="n-KTE193" transform="rotate(344.4)"><use href="#l3" class="D"/><text class="e" x="-339" y="3.6">KTE193</text><use href="#c" transform="translate(-274,0) rotate(-344.4)"/></g>
<g id="n-KTE102" transform="rotate(346.8)"><use href="#l3" class="A"/><text class="e" x="-339" y="3.6">KTE102</text><use href="#s" transform="translate(-278,0) rotate(-346.8)"/></g>
<g id="n-KTE221" transform="rotate(349.2)"><use href="#l3" class="C"/><text class="e" x="-339" y="3.6">KTE221</text><use href="#c" transform="translate(-281,0) rotate(-349.2)"/></g>
<g id="n-KTE142" transform="rotate(351.6)"><use href="#l3" class="A"/><text class="e" x="-339" y="3.6">KTE142</text><use href="#s" transform="translate(-284,0) rotate(-351.6)"/></g>
<g id="n-KTE101" transform="rotate(354)"><use href="#l3" class="B1"/><text class="e" x="-339" y="3.6">KTE101</text><use href="#s" transform="translate(-289,0) rotate(-354)"/></g>
<g id="n-KTE203" transform="rotate(356.4)"><use href="#l3" class="B1"/><text class="e" x="-339" y="3.6">KTE203</text><use href="#c" transform="translate(-297,0) rotate(-356.4)"/></g>
<g id="n-KTE12" transform="rotate(358.8)"><use href="#l2" class="B1"/><text class="e" x="-339" y="3.6">KTE12</text><use href="#t" transform="translate(-298,0) rotate(-358.8)"/></g>
<g id="n-KTE136" transform="rotate(361.2)"><use href="#l3" class="B1"/><text class="e" x="-339" y="3.6">KTE136</text><use href="#s" transform="translate(-301,0) rotate(-361.2)"/></g>
<g id="n-KTE48" transform="rotate(363.6)"><use href="#l2" class="B1"/><text class="e" x="-339" y="3.6">KTE48</text><use href="#t" transform="translate(-302,0) rotate(-363.6)"/></g>
<g id="n-KTE210" transform="rotate(366)"><use href="#l3" class="B1"/><text class="e" x="-339" y="3.6">KTE210</text><use href="#c" transform="translate(-303,0) rotate(-366)"/></g>
<g id="n-KTE135" transform="rotate(368.4)"><use href="#l3" class="B1"/><text class="e" x="-339" y="3.6">KTE135</text><use href="#s" transform="translate(-301,0) rotate(-368.4)"/></g>
<g id="n-KTE138" transform="rotate(370.8)"><use href="#l3" class="B1"/><text class="e" x="-339" y="3.6">KTE138</text><use href="#s" transform="translate(-301,0) rotate(-370.8)"/></g>
<g id="n-KTE184" transform="rotate(373.2)"><use href="#l3" class="B1"/><text class="e" x="-339" y="3.6">KTE184</text><use href="#c" transform="translate(-301,0) rotate(-373.2)"/></g>
<g id="n-KTE29" transform="rotate(375.6)"><use href="#l2" class="A"/><text class="e" x="-339" y="3.6">KTE29</text><use href="#t" transform="translate(-304,0) rotate(-375.6)"/></g>
<g id="n-KTE108" transform="rotate(378)"><use href="#l3" class="A"/><text class="e" x="-339" y="3.6">KTE108</text><use href="#s" transform="translate(-277,0) rotate(-378)"/></g>
<g id="n-KTE233" transform="rotate(380.4)"><use href="#l3" class="A"/><text class="e" x="-339" y="3.6">KTE233</text><use href="#s" transform="translate(-286,0) rotate(-380.4)"/></g>
<g id="n-KTE64" transform="rotate(382.8)"><use href="#l2" class="A"/><text class="e" x="-339" y="3.6">KTE64</text><use href="#t" transform="translate(-289,0) rotate(-382.8)"/></g>
<g id="n-KTE100" transform="rotate(385.2)"><use href="#l3" class="A"/><text class="e" x="-339" y="3.6">KTE100</text><use href="#s" transform="translate(-290,0) rotate(-385.2)"/></g>
<g id="n-KTE234" transform="rotate(387.6)"><use href="#l3" class="A"/><text class="e" x="-339" y="3.6">KTE234</text><use href="#s" transform="translate(-292,0) rotate(-387.6)"/></g>
<g id="n-KTE73" transform="rotate(390)"><use href="#l2" class="A"/><text class="e" x="-339" y="3.6">KTE73</text><use href="#t" transform="translate(-285,0) rotate(-390)"/></g>
<g id="n-KTE107" transform="rotate(392.4)"><use href="#l3" class="A"/><text class="e" x="-339" y="3.6">KTE107</text><use href="#s" transform="translate(-285,0) rotate(-392.4)"/></g>
<g id="n-KTE119" transform="rotate(394.8)"><use href="#l3" class="A"/><text class="e" x="-339" y="3.6">KTE119</text><use href="#s" transform="translate(-288,0) rotate(-394.8)"/></g>
<g id="n-KTE212" transform="rotate(397.2)"><use href="#l3" class="A"/><text class="e" x="-339" y="3.6">KTE212</text><use href="#c" transform="translate(-289,0) rotate(-397.2)"/></g>
<g id="n-KTE10" transform="rotate(399.6)"><use href="#l2" class="A"/><text class="e" x="-339" y="3.6">KTE10</text><use href="#t" transform="translate(-293,0) rotate(-399.6)"/></g>
<g id="n-KTE154" transform="rotate(402)"><use href="#l3" class="NT"/><text class="e" x="-339" y="3.6">KTE154</text><use href="#s" transform="translate(-293,0) rotate(-402)"/></g>
<g id="n-KTE56" transform="rotate(404.4)"><use href="#l2" class="A"/><text class="e" x="-339" y="3.6">KTE56</text><use href="#t" transform="translate(-302,0) rotate(-404.4)"/></g>
<g id="n-KTE103" transform="rotate(406.8)"><use href="#l3" class="A"/><text class="e" x="-339" y="3.6">KTE103</text><use href="#s" transform="translate(-303,0) rotate(-406.8)"/></g>
<g id="n-KTE14" transform="rotate(409.2)"><use href="#l2" class="A"/><text class="e" x="-339" y="3.6">KTE14</text><use href="#t" transform="translate(-298,0) rotate(-409.2)"/></g>
<g id="n-KTE44" transform="rotate(411.6)"><use href="#l2" class="A"/><text class="e" x="-339" y="3.6">KTE44</text><use href="#t" transform="translate(-307,0) rotate(-411.6)"/></g>
<g id="n-KTE77" transform="rotate(414)"><use href="#l2" class="A"/><text class="e" x="-339" y="3.6">KTE77</text><use href="#t" transform="translate(-300,0) rotate(-414)"/></g>
<g id="n-KTE197" transform="rotate(416.4)"><use href="#l3" class="A"/><text class="e" x="-339" y="3.6">KTE197</text><use href="#c" transform="translate(-300,0) rotate(-416.4)"/></g>
<g id="n-KTE155" transform="rotate(418.8)"><use href="#l3" class="A"/><text class="e" x="-339" y="3.6">KTE155</text><use href="#s" transform="translate(-300,0) rotate(-418.8)"/></g>
<g id="n-KTE61" transform="rotate(421.2)"><use href="#l2" class="A"/><text class="e" x="-339" y="3.6">KTE61</text><use href="#t" transform="translate(-299,0) rotate(-421.2)"/></g>
<g id="n-KTE111" transform="rotate(423.6)"><use href="#l3" class="A"/><text class="e" x="-339" y="3.6">KTE111</text><use href="#s" transform="translate(-308,0) rotate(-423.6)"/></g>
<g id="n-KTE161" transform="rotate(426)"><use href="#l3" class="A"/><text class="e" x="-339" y="3.6">KTE161</text><use href="#s" transform="translate(-307,0) rotate(-426)"/></g>
<g id="n-KTE42" transform="rotate(428.4)"><use href="#l2" class="A"/><text class="e" x="-339" y="3.6">KTE42</text><use href="#t" transform="translate(-307,0) rotate(-428.4)"/></g>
<g id="n-KTE198" transform="rotate(430.8)"><use href="#l3" class="A"/><text class="e" x="-339" y="3.6">KTE198</text><use href="#c" transform="translate(-310,0) rotate(-430.8)"/></g>
<g id="n-KTE51" transform="rotate(433.2)"><use href="#l2" class="A"/><text class="e" x="-339" y="3.6">KTE51</text><use href="#t" transform="translate(-311,0) rotate(-433.2)"/></g>
<g id="n-KTE130" transform="rotate(435.6)"><use href="#l3" class="A"/><text class="e" x="-339" y="3.6">KTE130</text><use href="#s" transform="translate(-311,0) rotate(-435.6)"/></g>
<g id="n-KTE34" transform="rotate(438)"><use href="#l2" class="A"/><text class="e" x="-339" y="3.6">KTE34</text><use href="#t" transform="translate(-311,0) rotate(-438)"/></g>
<g id="n-KTE81" transform="rotate(440.4)"><use href="#l2" class="A"/><text class="e" x="-339" y="3.6">KTE81</text><use href="#t" transform="translate(-308,0) rotate(-440.4)"/></g>
<g id="n-KTE171" transform="rotate(442.8)"><use href="#l3" class="A"/><text class="e" x="-339" y="3.6">KTE171</text><use href="#s" transform="translate(-308,0) rotate(-442.8)"/></g>
<g id="n-KTE71" transform="rotate(445.2)"><use href="#l2" class="A"/><text class="e" x="-339" y="3.6">KTE71</text><use href="#t" transform="translate(-325,0) rotate(-445.2)"/></g>
<g id="n-KTE41" transform="rotate(447.6)"><use href="#l2" class="A"/><text class="e" x="-339" y="3.6">KTE41</text><use href="#t" transform="translate(-315,0) rotate(-447.6)"/></g>
</g>
</g>
</svg>
